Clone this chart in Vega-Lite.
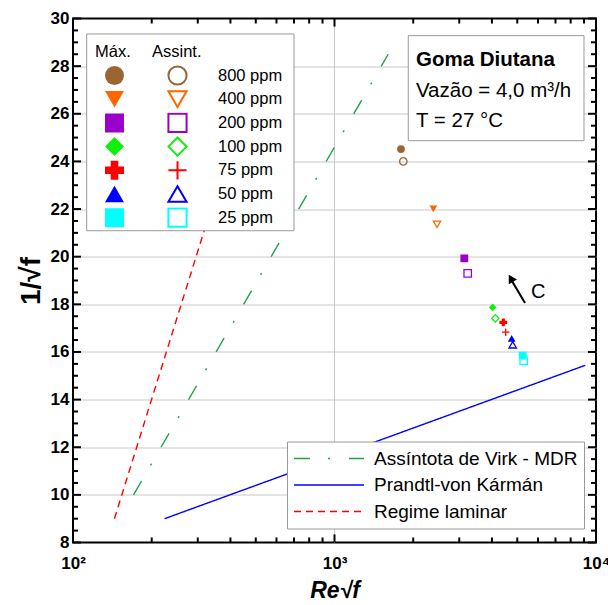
{
  "$schema": "https://vega.github.io/schema/vega-lite/v6.json",
  "width": 523,
  "height": 524,
  "autosize": "none",
  "padding": {"left": 73, "top": 18.5, "right": 12, "bottom": 62.5},
  "background": "white",
  "config": {"font": "Liberation Sans", "view": {"stroke": "black", "strokeWidth": 2}},
  "datasets": {
    "lines": [
      {"curve": "Assíntota de Virk - MDR", "x": 170.4, "y": 10},
      {"curve": "Assíntota de Virk - MDR", "x": 1604, "y": 28.5},
      {"curve": "Prandtl-von Kármán", "x": 224, "y": 9},
      {"curve": "Prandtl-von Kármán", "x": 9100, "y": 15.44},
      {"curve": "Regime laminar", "x": 144, "y": 9},
      {"curve": "Regime laminar", "x": 384, "y": 24}
    ],
    "pts": [
      {"conc": "800 ppm", "tipo": "Máx.", "x": 1796, "y": 24.52},
      {"conc": "800 ppm", "tipo": "Assint.", "x": 1833, "y": 24.0},
      {"conc": "400 ppm", "tipo": "Máx.", "x": 2387, "y": 22.01},
      {"conc": "400 ppm", "tipo": "Assint.", "x": 2466, "y": 21.36},
      {"conc": "200 ppm", "tipo": "Máx.", "x": 3136, "y": 19.93},
      {"conc": "200 ppm", "tipo": "Assint.", "x": 3231, "y": 19.3},
      {"conc": "100 ppm", "tipo": "Máx.", "x": 4027, "y": 17.87},
      {"conc": "100 ppm", "tipo": "Assint.", "x": 4120, "y": 17.41},
      {"conc": "75 ppm", "tipo": "Máx.", "x": 4421, "y": 17.24},
      {"conc": "75 ppm", "tipo": "Assint.", "x": 4515, "y": 16.83},
      {"conc": "50 ppm", "tipo": "Máx.", "x": 4760, "y": 16.57},
      {"conc": "50 ppm", "tipo": "Assint.", "x": 4803, "y": 16.3},
      {"conc": "25 ppm", "tipo": "Máx.", "x": 5245, "y": 15.85},
      {"conc": "25 ppm", "tipo": "Assint.", "x": 5290, "y": 15.63}
    ],
    "xticks": [
      {"v": 100, "k": "major"}, {"v": 200, "k": "minor"}, {"v": 300, "k": "minor"}, {"v": 400, "k": "minor"}, {"v": 500, "k": "minor"},
      {"v": 600, "k": "minor"}, {"v": 700, "k": "minor"}, {"v": 800, "k": "minor"}, {"v": 900, "k": "minor"}, {"v": 1000, "k": "major"},
      {"v": 2000, "k": "minor"}, {"v": 3000, "k": "minor"}, {"v": 4000, "k": "minor"}, {"v": 5000, "k": "minor"}, {"v": 6000, "k": "minor"},
      {"v": 7000, "k": "minor"}, {"v": 8000, "k": "minor"}, {"v": 9000, "k": "minor"}, {"v": 10000, "k": "major"}
    ],
    "yticks": [
      {"v": 8, "k": "major"}, {"v": 8.5, "k": "minor"}, {"v": 9, "k": "minor"}, {"v": 9.5, "k": "minor"},
      {"v": 10, "k": "major"}, {"v": 10.5, "k": "minor"}, {"v": 11, "k": "minor"}, {"v": 11.5, "k": "minor"},
      {"v": 12, "k": "major"}, {"v": 12.5, "k": "minor"}, {"v": 13, "k": "minor"}, {"v": 13.5, "k": "minor"},
      {"v": 14, "k": "major"}, {"v": 14.5, "k": "minor"}, {"v": 15, "k": "minor"}, {"v": 15.5, "k": "minor"},
      {"v": 16, "k": "major"}, {"v": 16.5, "k": "minor"}, {"v": 17, "k": "minor"}, {"v": 17.5, "k": "minor"},
      {"v": 18, "k": "major"}, {"v": 18.5, "k": "minor"}, {"v": 19, "k": "minor"}, {"v": 19.5, "k": "minor"},
      {"v": 20, "k": "major"}, {"v": 20.5, "k": "minor"}, {"v": 21, "k": "minor"}, {"v": 21.5, "k": "minor"},
      {"v": 22, "k": "major"}, {"v": 22.5, "k": "minor"}, {"v": 23, "k": "minor"}, {"v": 23.5, "k": "minor"},
      {"v": 24, "k": "major"}, {"v": 24.5, "k": "minor"}, {"v": 25, "k": "minor"}, {"v": 25.5, "k": "minor"},
      {"v": 26, "k": "major"}, {"v": 26.5, "k": "minor"}, {"v": 27, "k": "minor"}, {"v": 27.5, "k": "minor"},
      {"v": 28, "k": "major"}, {"v": 28.5, "k": "minor"}, {"v": 29, "k": "minor"}, {"v": 29.5, "k": "minor"},
      {"v": 30, "k": "major"}
    ],
    "boxes": [
      {"box": "legenda", "x1": 112.8, "x2": 700, "y1": 29.35, "y2": 21.09},
      {"box": "info", "x1": 1915, "x2": 8998, "y1": 29.28, "y2": 24.87}
    ],
    "boldtext": [
      {"t": "Goma Diutana", "x": 2049, "y": 28.0}
    ],
    "normtext": [
      {"t": "Vazão = 4,0 m³/h", "x": 2049, "y": 26.7},
      {"t": "T = 27 °C", "x": 2049, "y": 25.44}
    ],
    "ctext": [
      {"t": "C", "x": 6017, "y": 18.5}
    ],
    "arrow": [
      {"x": 5352, "y": 18.06, "x2": 4700, "y2": 19.1}
    ],
    "arrowhead": [
      {"x": 4723, "y": 19.09}
    ]
  },
  "resolve": {
    "scale": {"color": "independent", "shape": "independent", "strokeDash": "independent"},
    "axis": {"x": "independent", "y": "independent"}
  },
  "layer": [
    {
      "data": {"name": "lines"},
      "mark": {"type": "line", "strokeWidth": 1.4},
      "encoding": {
        "x": {
          "field": "x", "type": "quantitative",
          "scale": {"type": "log", "domain": [100, 10000], "nice": false},
          "axis": {
            "orient": "bottom", "ticks": false,
            "values": [100, 1000, 10000],
            "labelExpr": "datum.value == 100 ? '10²' : datum.value == 1000 ? '10³' : datum.value == 10000 ? '10⁴' : ''",
            "labelFont": "Liberation Sans", "labelFontWeight": "bold", "labelFontSize": 17, "labelColor": "black",
            "labelFlush": false, "labelOverlap": false, "labelPadding": 13,
            "domain": false, "grid": false,
            "title": "Re√f", "titleFont": "Liberation Sans", "titleFontSize": 23, "titleFontWeight": "bold", "titleFontStyle": "italic", "titleColor": "black", "titlePadding": 8
          }
        },
        "y": {
          "field": "y", "type": "quantitative",
          "scale": {"domain": [8, 30], "nice": false, "zero": false},
          "axis": {
            "orient": "left", "ticks": false,
            "values": [8, 10, 12, 14, 16, 18, 20, 22, 24, 26, 28, 30],
            "format": "d",
            "labelFont": "Liberation Sans", "labelFontWeight": "bold", "labelFontSize": 17, "labelColor": "black",
            "labelFlush": false, "labelOverlap": false, "labelPadding": 4,
            "domain": false, "grid": false,
            "title": "1/√f", "titleFont": "Liberation Sans", "titleFontSize": 28, "titleFontWeight": "bold", "titleColor": "black", "titlePadding": 5
          }
        },
        "color": {
          "field": "curve", "type": "nominal",
          "scale": {"domain": ["Assíntota de Virk - MDR", "Prandtl-von Kármán", "Regime laminar"], "range": ["#20A048", "#0000FF", "#FF0000"]},
          "legend": {
            "orient": "none", "legendX": 214, "legendY": 423, "title": null,
            "fillColor": "white", "strokeColor": "#999999", "padding": 6,
            "symbolType": "stroke", "symbolSize": 4900, "symbolStrokeWidth": 1.6, "clipHeight": 22, "rowPadding": 4.5,
            "labelFont": "Liberation Sans", "labelFontSize": 19, "labelColor": "black", "labelOffset": 9, "labelLimit": 400
          }
        },
        "strokeDash": {
          "field": "curve", "type": "nominal",
          "scale": {"domain": ["Assíntota de Virk - MDR", "Prandtl-von Kármán", "Regime laminar"], "range": [[16, 18, 2, 19], [1, 0], [7, 5]]},
          "legend": {
            "orient": "none", "legendX": 214, "legendY": 423, "title": null,
            "fillColor": "white", "strokeColor": "#999999", "padding": 6,
            "symbolType": "stroke", "symbolSize": 4900, "symbolStrokeWidth": 1.6, "clipHeight": 22, "rowPadding": 4.5,
            "labelFont": "Liberation Sans", "labelFontSize": 19, "labelColor": "black", "labelOffset": 9, "labelLimit": 400
          }
        }
      }
    },
    {
      "data": {"name": "boxes"},
      "mark": {"type": "rect", "fill": "white", "stroke": "#999999", "strokeWidth": 1},
      "encoding": {
        "x": {"field": "x1", "type": "quantitative", "axis": null},
        "x2": {"field": "x2"},
        "y": {"field": "y1", "type": "quantitative", "axis": null},
        "y2": {"field": "y2"}
      }
    },
    {
      "data": {"name": "boldtext"},
      "mark": {"type": "text", "align": "left", "baseline": "alphabetic", "font": "Liberation Sans", "fontSize": 20.5, "fontWeight": "bold", "color": "black"},
      "encoding": {
        "x": {"field": "x", "type": "quantitative", "axis": null},
        "y": {"field": "y", "type": "quantitative", "axis": null},
        "text": {"field": "t"}
      }
    },
    {
      "data": {"name": "normtext"},
      "mark": {"type": "text", "align": "left", "baseline": "alphabetic", "font": "Liberation Sans", "fontSize": 20.5, "color": "black"},
      "encoding": {
        "x": {"field": "x", "type": "quantitative", "axis": null},
        "y": {"field": "y", "type": "quantitative", "axis": null},
        "text": {"field": "t"}
      }
    },
    {
      "data": {"name": "ctext"},
      "mark": {"type": "text", "align": "center", "baseline": "middle", "font": "Liberation Sans", "fontSize": 20, "color": "black"},
      "encoding": {
        "x": {
          "field": "x", "type": "quantitative",
          "axis": {
            "orient": "bottom", "values": [1000],
            "labels": false, "ticks": false, "title": null, "domain": false,
            "grid": true, "gridColor": "#c8c8c8", "gridWidth": 1
          }
        },
        "y": {
          "field": "y", "type": "quantitative",
          "axis": {
            "orient": "left", "values": [10, 12, 14, 16, 18, 20, 22, 24, 26, 28],
            "labels": false, "ticks": false, "title": null, "domain": false,
            "grid": true, "gridColor": "#c8c8c8", "gridWidth": 1
          }
        },
        "text": {"field": "t"}
      }
    },
    {
      "data": {"name": "arrow"},
      "mark": {"type": "rule", "color": "black", "strokeWidth": 2},
      "encoding": {
        "x": {"field": "x", "type": "quantitative", "axis": null},
        "y": {"field": "y", "type": "quantitative", "axis": null},
        "x2": {"field": "x2"},
        "y2": {"field": "y2"}
      }
    },
    {
      "data": {"name": "arrowhead"},
      "mark": {"type": "point", "shape": "triangle-up", "filled": true, "color": "black", "size": 90, "angle": -30, "opacity": 1},
      "encoding": {
        "x": {"field": "x", "type": "quantitative", "axis": null},
        "y": {"field": "y", "type": "quantitative", "axis": null}
      }
    },
    {
      "data": {"name": "pts"},
      "transform": [{"filter": "datum.tipo == 'Máx.'"}],
      "mark": {"type": "point", "filled": true, "size": 60, "opacity": 1},
      "encoding": {
        "x": {"field": "x", "type": "quantitative", "axis": null},
        "y": {"field": "y", "type": "quantitative", "axis": null},
        "color": {
          "field": "conc", "type": "nominal",
          "scale": {"domain": ["800 ppm", "400 ppm", "200 ppm", "100 ppm", "75 ppm", "50 ppm", "25 ppm"], "range": ["#9B6433", "#FF6600", "#9900CC", "#10F010", "#FF0000", "#0000FF", "#00FFFF"]},
          "legend": {
            "orient": "none", "legendX": 22, "legendY": 25, "padding": 0,
            "title": "Máx.", "titleFont": "Liberation Sans", "titleFontSize": 16.5, "titleFontWeight": "normal", "titleColor": "black", "titlePadding": 5,
            "labelExpr": "''", "labelFontSize": 16.5,
            "symbolOffset": 10, "symbolSize": 360, "symbolStrokeWidth": 0, "clipHeight": 21, "rowPadding": 2.7
          }
        },
        "shape": {
          "field": "conc", "type": "nominal",
          "scale": {"domain": ["800 ppm", "400 ppm", "200 ppm", "100 ppm", "75 ppm", "50 ppm", "25 ppm"], "range": ["circle", "triangle-down", "square", "diamond", "cross", "triangle-up", "square"]},
          "legend": {
            "orient": "none", "legendX": 22, "legendY": 25, "padding": 0,
            "title": "Máx.", "titleFont": "Liberation Sans", "titleFontSize": 16.5, "titleFontWeight": "normal", "titleColor": "black", "titlePadding": 5,
            "labelExpr": "''", "labelFontSize": 16.5,
            "symbolOffset": 10, "symbolSize": 360, "symbolStrokeWidth": 0, "clipHeight": 21, "rowPadding": 2.7
          }
        }
      }
    },
    {
      "data": {"name": "pts"},
      "transform": [{"filter": "datum.tipo == 'Assint.'"}],
      "mark": {"type": "point", "filled": false, "size": 55, "strokeWidth": 1.3, "opacity": 1},
      "encoding": {
        "x": {"field": "x", "type": "quantitative", "axis": null},
        "y": {"field": "y", "type": "quantitative", "axis": null},
        "color": {
          "field": "conc", "type": "nominal",
          "scale": {"domain": ["800 ppm", "400 ppm", "200 ppm", "100 ppm", "75 ppm", "50 ppm", "25 ppm"], "range": ["#9B6433", "#FF6600", "#9900CC", "#10F010", "#FF0000", "#0000FF", "#00FFFF"]},
          "legend": {
            "orient": "none", "legendX": 79, "legendY": 25, "padding": 0,
            "title": "Assint.", "titleFont": "Liberation Sans", "titleFontSize": 16.5, "titleFontWeight": "normal", "titleColor": "black", "titlePadding": 5,
            "labelFont": "Liberation Sans", "labelFontSize": 16.5, "labelColor": "black", "labelOffset": 30,
            "symbolOffset": 15, "symbolSize": 330, "symbolStrokeWidth": 2, "clipHeight": 21, "rowPadding": 2.7
          }
        },
        "shape": {
          "field": "conc", "type": "nominal",
          "scale": {"domain": ["800 ppm", "400 ppm", "200 ppm", "100 ppm", "75 ppm", "50 ppm", "25 ppm"], "range": ["circle", "triangle-down", "square", "diamond", "M-1,0L1,0M0,-1L0,1", "triangle-up", "square"]},
          "legend": {
            "orient": "none", "legendX": 79, "legendY": 25, "padding": 0,
            "title": "Assint.", "titleFont": "Liberation Sans", "titleFontSize": 16.5, "titleFontWeight": "normal", "titleColor": "black", "titlePadding": 5,
            "labelFont": "Liberation Sans", "labelFontSize": 16.5, "labelColor": "black", "labelOffset": 30,
            "symbolOffset": 15, "symbolSize": 330, "symbolStrokeWidth": 2, "clipHeight": 21, "rowPadding": 2.7
          }
        }
      }
    },
    {
      "data": {"name": "xticks"},
      "transform": [{"filter": "datum.k == 'major'"}],
      "mark": {"type": "rule", "color": "black", "strokeWidth": 2},
      "encoding": {
        "x": {"field": "v", "type": "quantitative", "axis": null},
        "y": {"datum": 8, "type": "quantitative", "axis": null},
        "y2": {"datum": 8.34}
      }
    },
    {
      "data": {"name": "xticks"},
      "transform": [{"filter": "datum.k == 'minor'"}],
      "mark": {"type": "rule", "color": "black", "strokeWidth": 2},
      "encoding": {
        "x": {"field": "v", "type": "quantitative", "axis": null},
        "y": {"datum": 8, "type": "quantitative", "axis": null},
        "y2": {"datum": 8.21}
      }
    },
    {
      "data": {"name": "xticks"},
      "transform": [{"filter": "datum.k == 'major'"}],
      "mark": {"type": "rule", "color": "black", "strokeWidth": 2},
      "encoding": {
        "x": {"field": "v", "type": "quantitative", "axis": null},
        "y": {"datum": 30, "type": "quantitative", "axis": null},
        "y2": {"datum": 29.66}
      }
    },
    {
      "data": {"name": "xticks"},
      "transform": [{"filter": "datum.k == 'minor'"}],
      "mark": {"type": "rule", "color": "black", "strokeWidth": 2},
      "encoding": {
        "x": {"field": "v", "type": "quantitative", "axis": null},
        "y": {"datum": 30, "type": "quantitative", "axis": null},
        "y2": {"datum": 29.79}
      }
    },
    {
      "data": {"name": "yticks"},
      "transform": [{"filter": "datum.k == 'major'"}],
      "mark": {"type": "rule", "color": "black", "strokeWidth": 2},
      "encoding": {
        "y": {"field": "v", "type": "quantitative", "axis": null},
        "x": {"datum": 100, "type": "quantitative", "axis": null},
        "x2": {"datum": 107.3}
      }
    },
    {
      "data": {"name": "yticks"},
      "transform": [{"filter": "datum.k == 'minor'"}],
      "mark": {"type": "rule", "color": "black", "strokeWidth": 2},
      "encoding": {
        "y": {"field": "v", "type": "quantitative", "axis": null},
        "x": {"datum": 100, "type": "quantitative", "axis": null},
        "x2": {"datum": 104.5}
      }
    },
    {
      "data": {"name": "yticks"},
      "transform": [{"filter": "datum.k == 'major'"}],
      "mark": {"type": "rule", "color": "black", "strokeWidth": 2},
      "encoding": {
        "y": {"field": "v", "type": "quantitative", "axis": null},
        "x": {"datum": 10000, "type": "quantitative", "axis": null},
        "x2": {"datum": 9320}
      }
    },
    {
      "data": {"name": "yticks"},
      "transform": [{"filter": "datum.k == 'minor'"}],
      "mark": {"type": "rule", "color": "black", "strokeWidth": 2},
      "encoding": {
        "y": {"field": "v", "type": "quantitative", "axis": null},
        "x": {"datum": 10000, "type": "quantitative", "axis": null},
        "x2": {"datum": 9569}
      }
    }
  ]
}
